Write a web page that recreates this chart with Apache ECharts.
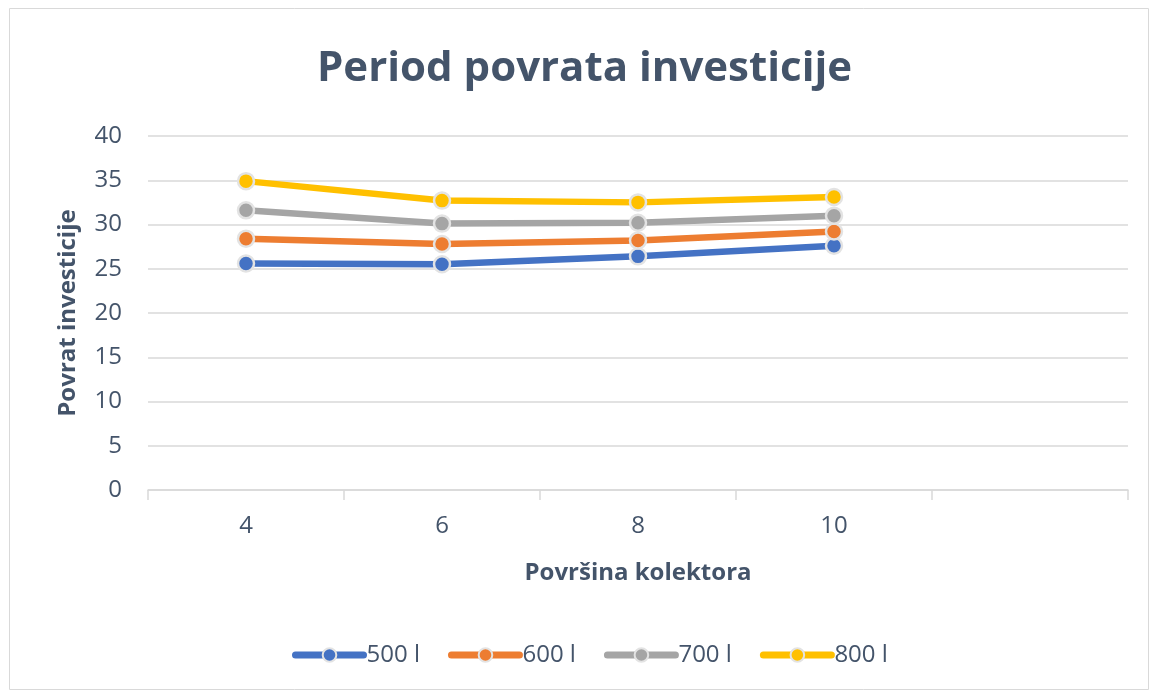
<!DOCTYPE html>
<html><head><meta charset="utf-8">
<script src="https://cdn.jsdelivr.net/npm/echarts@6/dist/echarts.min.js"></script>
<style>html,body{margin:0;padding:0;background:#fff}#c{width:1157px;height:697px}</style>
</head><body><div id="c"></div>
<script>
const categories = ['4', '6', '8', '10', ''];
const s500 = [25.6, 25.5, 26.4, 27.6];
const s600 = [28.4, 27.8, 28.2, 29.2];
const s700 = [31.6, 30.1, 30.2, 31.0];
const s800 = [34.9, 32.7, 32.5, 33.1];
const seriesNames = ['500 l', '600 l', '700 l', '800 l'];
const colors = ['#4472C4', '#ED7D31', '#A5A5A5', '#FFC000'];
const yTicks = {min: 0, max: 40, interval: 5};

const textColor = '#44546A';
const font = '"Open Sans", "Noto Sans", sans-serif';
const chart = echarts.init(document.getElementById('c'));
const data = [s500, s600, s700, s800];
chart.setOption({
  animation: false,
  color: colors,
  graphic: [{type: 'rect', shape: {x: 9.5, y: 8.5, width: 1139, height: 681}, style: {fill: 'none', stroke: '#d9d9d9', lineWidth: 1}, silent: true}],
  title: {text: 'Period povrata investicije', left: 312, top: 43,
    textStyle: {fontFamily: font, fontSize: 42, fontWeight: 'bold', color: textColor}},
  grid: {left: 148, right: 29, top: 136, bottom: 207},
  legend: {bottom: 25, left: 287, itemWidth: 68, itemHeight: 17, itemGap: 28,
    lineStyle: {width: 7, cap: 'round'},
    textStyle: {fontFamily: font, fontSize: 24, color: textColor, padding: [0, 0, 0, -2]},
    data: seriesNames},
  xAxis: {type: 'category', data: categories, boundaryGap: true,
    name: 'Površina kolektora', nameLocation: 'middle', nameGap: 71,
    nameTextStyle: {fontFamily: font, fontSize: 24, fontWeight: 'bold', color: textColor},
    axisLine: {lineStyle: {color: '#d9d9d9', width: 1.5}},
    axisTick: {show: true, length: 10, lineStyle: {color: '#d9d9d9', width: 1.5}},
    axisLabel: {fontFamily: font, fontSize: 24, color: textColor, margin: 24}},
  yAxis: {type: 'value', min: yTicks.min, max: yTicks.max, interval: yTicks.interval,
    name: 'Povrat investicije', nameLocation: 'middle', nameGap: 68, nameRotate: 90,
    nameTextStyle: {fontFamily: font, fontSize: 24, fontWeight: 'bold', color: textColor},
    axisLine: {show: false}, axisTick: {show: false},
    splitLine: {lineStyle: {color: '#d9d9d9', width: 1.5}},
    axisLabel: {fontFamily: font, fontSize: 24, color: textColor, margin: 26}},
  series: data.map((d, i) => ({
    name: seriesNames[i], type: 'line', data: d,
    symbol: 'circle', symbolSize: 16, showSymbol: true,
    lineStyle: {width: 6.5, color: colors[i]},
    itemStyle: {color: colors[i], borderColor: '#e3e3e3', borderWidth: 2.5},
    z: 2 + i
  }))
});
</script></body></html>
